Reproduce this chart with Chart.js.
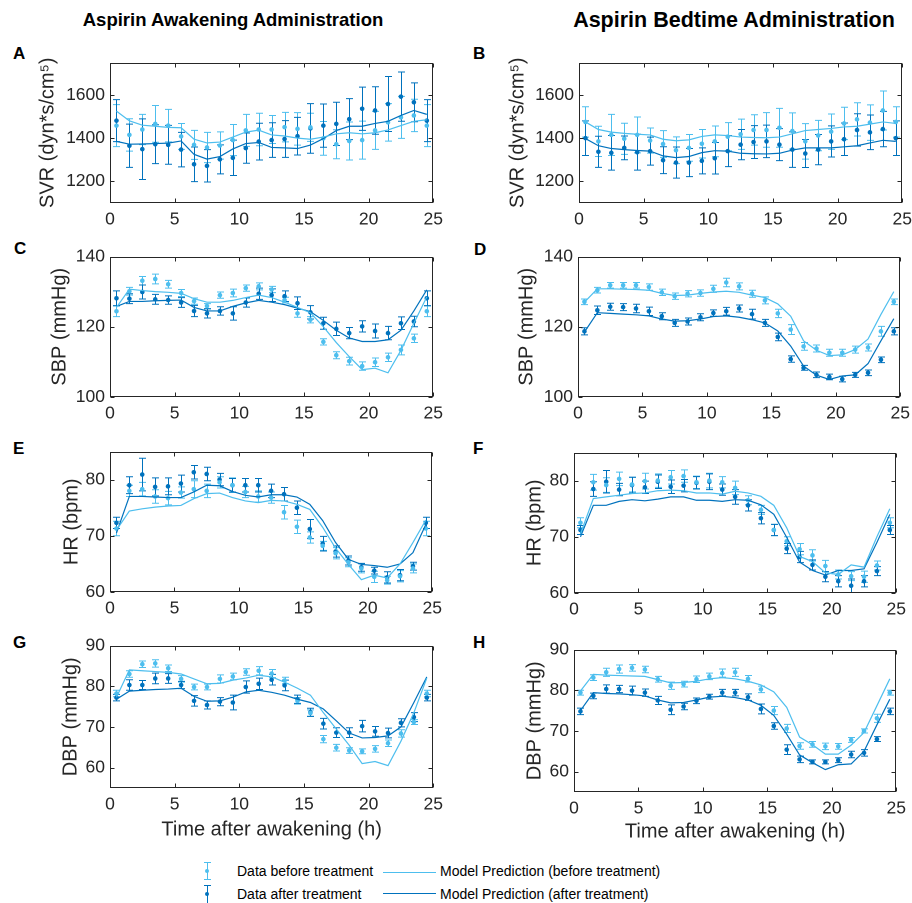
<!DOCTYPE html>
<html>
<head>
<meta charset="utf-8">
<script src="https://cdn.jsdelivr.net/npm/chart.js@4.4.1/dist/chart.umd.min.js"></script>
<style>
  html, body { margin: 0; padding: 0; background: #fff; overflow: hidden; }
  #page { position: relative; width: 912px; height: 903px; overflow: hidden;
          font-family: "Liberation Sans", Arial, Helvetica, sans-serif; color: #000; }
  .panel { position: absolute; }
  .title { position: absolute; font-weight: bold; white-space: nowrap; transform: translateX(-50%); line-height: 24px; }
  .letter { position: absolute; font-weight: bold; font-size: 17px; line-height: 17px; }
  .leg { position: absolute; font-size: 14px; line-height: 16px; white-space: nowrap; color: #000; }
  .bar { position: absolute; width: 1px; }
  .cap { position: absolute; width: 7px; height: 1px; }
  .dot { position: absolute; width: 4px; height: 4px; border-radius: 50%; }
  .lline { position: absolute; width: 53px; height: 0; border-top: 1.4px solid; }
</style>
</head>
<body>
<div id="page">
  <div class="title" style="left:233px; top:8px; font-size:18.5px;">Aspirin Awakening Administration</div>
  <div class="title" style="left:734px; top:8px; font-size:21.5px;">Aspirin Bedtime Administration</div>

  <div class="letter" style="left:13px; top:45px;">A</div>
  <div class="letter" style="left:473px; top:45px;">B</div>
  <div class="letter" style="left:14px; top:240px;">C</div>
  <div class="letter" style="left:474px; top:241px;">D</div>
  <div class="letter" style="left:13px; top:440px;">E</div>
  <div class="letter" style="left:473px; top:440px;">F</div>
  <div class="letter" style="left:13px; top:634px;">G</div>
  <div class="letter" style="left:473px; top:634px;">H</div>

  <!-- legend -->
  <div class="bar" style="left:207px; top:862px; height:18px; background:#4DBEEE;"></div>
  <div class="cap" style="left:204px; top:862px; background:#4DBEEE;"></div>
  <div class="cap" style="left:204px; top:879px; background:#4DBEEE;"></div>
  <div class="dot" style="left:205px; top:869px; background:#4DBEEE;"></div>
  <div class="bar" style="left:207px; top:885px; height:18px; background:#0072BD;"></div>
  <div class="cap" style="left:204px; top:885px; background:#0072BD;"></div>
  <div class="dot" style="left:205px; top:892px; background:#0072BD;"></div>
  <div class="leg" style="left:237px; top:863px;">Data before treatment</div>
  <div class="leg" style="left:237px; top:886px;">Data after treatment</div>
  <div class="lline" style="left:383px; top:872px; border-color:#4DBEEE;"></div>
  <div class="lline" style="left:383px; top:893px; border-color:#0072BD;"></div>
  <div class="leg" style="left:440px; top:863px;">Model Prediction (before treatment)</div>
  <div class="leg" style="left:440px; top:886px;">Model Prediction (after treatment)</div>
</div>

<script>
// hours after awakening at which data were collected
var hours = [0.5, 1.5, 2.5, 3.5, 4.5, 5.5, 6.5, 7.5, 8.5, 9.5, 10.5, 11.5, 12.5,
             13.5, 14.5, 15.5, 16.5, 17.5, 18.5, 19.5, 20.5, 21.5, 22.5, 23.5, 24.5];

var xTicks = [0, 5, 10, 15, 20, 25];
var svrTicks = [1200, 1400, 1600];
var sbpTicks = [100, 120, 140];
var hrTicks = [60, 70, 80];
var dbpTicks = [60, 70, 80, 90];

// A: SVR, awakening administration
var svrAwBefore = [1458, 1415, 1440, 1466, 1458, 1408, 1369, 1357, 1366, 1391, 1436, 1440, 1440, 1451, 1443, 1450, 1399, 1372, 1387, 1391, 1436, 1473, 1496, 1505, 1458];
var svrAwBeforeErr = [97, 75, 70, 85, 75, 60, 67, 70, 63, 72, 74, 75, 65, 68, 75, 65, 78, 67, 88, 88, 88, 87, 97, 75, 97];
var svrAwAfter = [1481, 1365, 1349, 1372, 1369, 1347, 1279, 1272, 1302, 1309, 1354, 1384, 1391, 1396, 1409, 1445, 1458, 1466, 1488, 1536, 1528, 1558, 1592, 1566, 1481];
var svrAwAfterErr = [97, 100, 140, 90, 90, 80, 80, 75, 67, 82, 70, 85, 80, 85, 87, 115, 100, 100, 95, 100, 110, 127, 114, 90, 97];
var svrAwModelBefore = [1525, 1480, 1460, 1455, 1450, 1448, 1395, 1378, 1382, 1405, 1428, 1437, 1415, 1410, 1400, 1395, 1405, 1420, 1425, 1420, 1425, 1438, 1458, 1478, 1485];
var svrAwModelAfter = [1385, 1372, 1373, 1375, 1377, 1387, 1325, 1303, 1315, 1350, 1375, 1380, 1357, 1355, 1352, 1368, 1398, 1435, 1455, 1455, 1468, 1478, 1505, 1528, 1510];

// B: SVR, bedtime administration
var svrBdBefore = [1475, 1385, 1415, 1397, 1415, 1389, 1373, 1344, 1355, 1374, 1385, 1407, 1418, 1438, 1438, 1448, 1433, 1385, 1412, 1430, 1468, 1487, 1472, 1528, 1475];
var svrBdBeforeErr = [70, 70, 95, 72, 83, 58, 62, 62, 62, 66, 71, 65, 70, 70, 80, 90, 84, 82, 70, 82, 75, 77, 82, 90, 70];
var svrBdAfter = [1400, 1337, 1332, 1355, 1335, 1340, 1298, 1287, 1287, 1295, 1307, 1340, 1370, 1382, 1385, 1370, 1347, 1329, 1347, 1385, 1395, 1438, 1427, 1442, 1400];
var svrBdAfterErr = [80, 72, 80, 55, 83, 65, 62, 72, 65, 60, 73, 72, 70, 76, 75, 74, 82, 65, 70, 72, 75, 75, 80, 82, 80];
var svrBdModelBefore = [1475, 1440, 1428, 1422, 1418, 1415, 1395, 1388, 1392, 1408, 1415, 1412, 1405, 1403, 1402, 1405, 1420, 1435, 1440, 1445, 1452, 1455, 1465, 1475, 1468];
var svrBdModelAfter = [1398, 1365, 1352, 1347, 1343, 1340, 1318, 1310, 1315, 1333, 1342, 1340, 1330, 1328, 1327, 1330, 1345, 1355, 1355, 1355, 1360, 1365, 1378, 1390, 1385];

// C: SBP, awakening administration
var sbpAwBefore = [124.4, 130.1, 133.1, 133.6, 132.1, 129.6, 127.3, 125.9, 129.0, 129.6, 131.0, 131.5, 130.6, 127.6, 123.8, 122.0, 115.7, 111.9, 110.2, 108.8, 109.9, 111.3, 113.4, 116.7, 124.4];
var sbpAwBeforeErr = [1.5, 1.1, 1.2, 1.4, 1.1, 1.0, 0.9, 0.7, 0.9, 1.1, 0.9, 1.0, 0.9, 0.8, 1.1, 0.9, 0.9, 1.0, 1.1, 1.2, 1.2, 1.2, 1.4, 1.2, 1.5];
var sbpAwAfter = [128.1, 128.0, 129.9, 127.8, 127.6, 126.9, 124.5, 123.8, 124.5, 123.8, 126.9, 129.4, 129.0, 128.7, 126.7, 124.1, 121.0, 119.4, 118.2, 120.1, 118.8, 118.2, 121.0, 121.5, 128.1];
var sbpAwAfterErr = [2.1, 1.4, 2.0, 1.4, 1.2, 1.4, 1.6, 1.3, 1.2, 1.9, 1.3, 1.6, 1.8, 1.5, 1.8, 1.9, 1.7, 1.9, 1.6, 1.6, 2.0, 1.9, 1.8, 1.5, 2.1];
var sbpAwModelBefore = [125.5, 130.7, 130.3, 130.0, 129.8, 129.5, 128.0, 127.0, 127.0, 127.5, 128.3, 129.0, 128.3, 127.0, 125.5, 124.0, 120.0, 115.5, 111.5, 107.8, 108.2, 106.9, 113.3, 121.0, 128.5];
var sbpAwModelAfter = [125.8, 127.2, 127.2, 127.4, 127.5, 127.6, 125.5, 124.5, 124.5, 125.8, 126.8, 127.5, 127.0, 126.3, 125.3, 124.3, 121.8, 119.0, 116.8, 115.8, 115.8, 116.3, 119.0, 124.5, 130.5];

// D: SBP, bedtime administration
var sbpBdBefore = [127.1, 130.4, 131.8, 131.8, 131.8, 131.3, 129.8, 128.7, 129.4, 129.6, 130.8, 132.6, 131.5, 129.4, 127.5, 123.8, 119.2, 114.4, 113.8, 112.6, 112.6, 113.5, 114.1, 118.7, 127.1];
var sbpBdBeforeErr = [0.8, 0.8, 0.8, 0.8, 0.8, 0.9, 0.9, 0.9, 0.9, 0.9, 1.0, 1.2, 1.0, 1.0, 1.0, 1.2, 1.4, 1.1, 1.0, 1.0, 1.0, 1.0, 1.0, 1.4, 0.8];
var sbpBdAfter = [118.7, 124.7, 125.7, 125.6, 125.2, 124.4, 123.0, 121.1, 121.5, 122.7, 123.9, 124.4, 125.2, 123.6, 121.1, 117.1, 110.8, 108.3, 106.3, 105.7, 105.1, 106.3, 106.9, 110.6, 118.7];
var sbpBdAfterErr = [1.0, 1.2, 1.0, 1.0, 1.2, 1.2, 1.0, 1.0, 1.0, 1.0, 0.9, 1.1, 1.0, 1.4, 1.0, 1.1, 0.9, 0.7, 0.8, 0.8, 0.8, 0.7, 0.8, 0.8, 1.0];
var sbpBdModelBefore = [127.0, 130.8, 130.8, 130.7, 130.6, 130.4, 129.5, 128.9, 129.0, 129.5, 129.9, 130.1, 129.8, 129.0, 128.3, 126.5, 123.0, 116.0, 113.3, 111.8, 112.0, 113.5, 116.5, 123.5, 130.0];
var sbpBdModelAfter = [118.5, 124.0, 123.8, 123.6, 123.4, 123.1, 122.2, 121.6, 121.7, 122.2, 122.9, 123.1, 122.7, 122.0, 121.1, 118.8, 114.5, 108.8, 106.2, 105.0, 106.0, 106.3, 109.5, 116.0, 122.3];

// E: HR, awakening administration
var hrAwBefore = [71.3, 78.0, 78.3, 77.0, 76.7, 77.7, 78.3, 78.0, 79.5, 79.0, 77.8, 77.0, 76.8, 74.2, 71.6, 69.7, 68.2, 66.9, 65.3, 64.2, 62.7, 62.1, 62.8, 64.2, 71.3];
var hrAwBeforeErr = [1.3, 1.0, 1.2, 1.2, 1.2, 1.0, 1.5, 1.2, 1.0, 1.3, 1.0, 1.0, 1.0, 1.2, 1.2, 1.0, 0.8, 1.0, 0.8, 0.8, 1.0, 0.7, 1.0, 0.8, 1.3];
var hrAwAfter = [72.3, 79.0, 80.9, 78.7, 78.8, 79.3, 81.3, 81.0, 80.0, 79.0, 79.0, 79.0, 78.0, 77.4, 75.0, 71.2, 68.6, 67.2, 65.6, 64.4, 63.8, 62.6, 63.0, 64.6, 72.3];
var hrAwAfterErr = [1.0, 1.5, 2.9, 1.6, 1.5, 1.5, 1.2, 1.2, 1.1, 1.2, 1.2, 1.2, 1.2, 1.2, 1.2, 1.7, 1.3, 1.0, 0.8, 0.7, 0.6, 1.0, 1.0, 0.7, 1.0];
var hrAwModelBefore = [71.0, 74.4, 74.8, 75.1, 75.3, 75.4, 76.6, 77.5, 77.6, 76.8, 76.2, 75.9, 76.3, 76.2, 75.6, 74.7, 71.5, 67.8, 64.9, 62.2, 63.0, 62.5, 65.0, 68.8, 72.8];
var hrAwModelAfter = [70.5, 77.0, 77.0, 76.9, 76.8, 76.8, 77.8, 79.0, 78.9, 77.9, 77.2, 76.9, 77.3, 77.3, 76.9, 75.6, 72.7, 68.8, 65.8, 64.9, 64.7, 64.4, 65.0, 67.0, 72.0];

// F: HR, bedtime administration
var hrBdBefore = [72.5, 79.7, 79.2, 80.3, 79.3, 79.9, 80.0, 80.6, 80.8, 79.7, 80.0, 79.7, 78.7, 76.5, 74.8, 71.2, 69.2, 67.8, 66.7, 64.8, 63.3, 63.0, 62.9, 64.9, 72.5];
var hrBdBeforeErr = [0.9, 1.4, 1.3, 1.2, 1.3, 1.4, 1.2, 1.2, 1.1, 1.1, 1.3, 1.0, 1.2, 0.8, 0.8, 1.0, 0.8, 1.0, 1.0, 1.0, 0.8, 0.8, 1.0, 0.8, 0.9];
var hrBdAfter = [71.2, 78.5, 79.8, 78.4, 79.2, 78.8, 79.8, 78.9, 79.1, 79.6, 79.8, 78.4, 77.1, 75.6, 73.3, 71.2, 67.9, 66.4, 65.0, 62.9, 62.1, 61.3, 62.1, 63.9, 71.2];
var hrBdAfterErr = [0.8, 1.3, 2.0, 1.1, 1.4, 1.1, 1.2, 1.2, 1.1, 1.1, 1.4, 1.0, 1.3, 1.0, 1.0, 1.0, 0.9, 1.0, 0.9, 0.9, 1.0, 1.2, 1.0, 0.8, 0.8];
var hrBdModelBefore = [70.5, 76.8, 77.1, 77.4, 77.7, 77.8, 78.2, 78.3, 78.2, 77.8, 77.8, 77.6, 78.1, 77.8, 77.2, 75.6, 71.6, 66.5, 65.6, 63.6, 63.3, 65.0, 64.6, 70.0, 75.0];
var hrBdModelAfter = [70.0, 75.6, 75.6, 76.3, 76.6, 76.4, 76.7, 77.1, 77.1, 76.5, 76.5, 76.3, 76.6, 76.5, 75.7, 74.0, 69.9, 65.5, 64.0, 63.2, 64.0, 64.0, 64.3, 69.0, 74.0];

// G: DBP, awakening administration
var dbpAwBefore = [78.2, 83.0, 85.4, 85.6, 84.4, 81.8, 79.8, 79.8, 81.8, 82.4, 83.5, 83.8, 83.1, 81.4, 76.4, 73.4, 67.0, 64.9, 64.2, 64.0, 64.6, 66.0, 68.4, 71.2, 78.2];
var dbpAwBeforeErr = [0.8, 0.8, 0.8, 0.9, 0.8, 0.8, 0.7, 0.7, 1.0, 0.8, 0.8, 1.0, 1.0, 0.8, 0.8, 0.8, 0.9, 0.8, 0.7, 0.6, 0.8, 0.8, 0.9, 0.6, 0.8];
var dbpAwAfter = [77.2, 80.3, 80.3, 81.9, 81.9, 80.3, 76.4, 75.4, 76.2, 76.0, 79.8, 80.6, 81.6, 80.2, 76.8, 73.6, 70.8, 68.6, 68.6, 70.2, 68.9, 68.5, 71.0, 72.4, 77.2];
var dbpAwAfterErr = [0.8, 1.3, 1.1, 1.3, 1.2, 0.9, 1.3, 1.0, 1.0, 1.8, 1.5, 1.4, 1.3, 1.3, 1.0, 1.0, 1.3, 1.2, 1.2, 1.4, 1.2, 1.2, 1.0, 1.1, 0.8];
var dbpAwModelBefore = [77.3, 84.0, 83.8, 83.6, 83.4, 83.0, 81.8, 80.6, 80.7, 81.5, 82.0, 82.7, 82.3, 81.0, 79.5, 77.8, 73.5, 69.5, 65.5, 61.0, 61.5, 60.5, 66.5, 73.5, 82.0];
var dbpAwModelAfter = [76.8, 78.8, 79.0, 79.2, 79.3, 79.5, 77.5, 76.3, 76.4, 77.3, 78.6, 79.0, 78.5, 77.8, 76.8, 76.0, 74.4, 71.5, 68.5, 67.3, 67.4, 67.8, 70.0, 76.0, 82.3];

// H: DBP, bedtime administration
var dbpBdBefore = [79.4, 83.1, 84.4, 85.2, 85.5, 85.1, 82.7, 81.1, 81.5, 82.7, 83.4, 84.2, 84.4, 82.8, 80.2, 75.0, 70.6, 66.3, 66.7, 66.2, 66.2, 67.8, 70.0, 73.1, 79.4];
var dbpBdBeforeErr = [0.6, 0.7, 1.0, 1.0, 0.8, 0.8, 0.7, 0.9, 0.7, 0.8, 0.8, 1.0, 1.0, 0.8, 0.8, 1.0, 1.0, 0.8, 0.7, 0.8, 0.7, 0.6, 0.5, 1.0, 0.6];
var dbpBdAfter = [74.8, 78.6, 80.3, 80.3, 79.9, 79.4, 77.5, 75.2, 76.0, 77.4, 78.4, 79.4, 79.4, 78.3, 75.4, 71.2, 65.4, 63.0, 62.4, 62.4, 62.8, 64.2, 64.6, 68.0, 74.8];
var dbpBdAfterErr = [0.8, 0.7, 1.0, 0.9, 1.1, 0.9, 1.0, 1.2, 0.8, 0.7, 0.6, 0.8, 0.8, 0.8, 1.2, 0.8, 1.2, 0.8, 0.5, 0.5, 0.6, 0.8, 0.8, 0.6, 0.8];
var dbpBdModelBefore = [79.8, 83.9, 83.7, 83.6, 83.5, 83.4, 82.6, 81.8, 81.9, 82.2, 82.8, 83.1, 82.8, 82.2, 81.3, 79.6, 75.8, 68.5, 66.6, 64.3, 64.3, 66.5, 69.6, 76.2, 82.8];
var dbpBdModelAfter = [75.0, 79.4, 79.2, 79.1, 78.9, 78.6, 77.6, 76.9, 77.0, 77.6, 78.3, 78.5, 78.2, 77.6, 76.3, 73.8, 69.2, 64.1, 62.2, 60.5, 61.7, 61.9, 65.0, 71.5, 77.8];

(function() {
  var LIGHT = '#4DBEEE';
  var DARK = '#0072BD';
  var AXIS = '#262626';

  Chart.defaults.font.family = '"Liberation Sans", Arial, Helvetica, sans-serif';
  Chart.defaults.color = AXIS;

  // box: plot area in page pixels [left, right, top, bottom]; yt: centre of y title
  var panels = [
    { ytitle: 'SVR (dyn*s/cm\u2075)', min: 1100, max: 1750, ticks: svrTicks, box: [110, 435, 59, 203], yt: 48,
      before: svrAwBefore, beforeErr: svrAwBeforeErr, after: svrAwAfter, afterErr: svrAwAfterErr,
      mBefore: svrAwModelBefore, mAfter: svrAwModelAfter },
    { ytitle: 'SVR (dyn*s/cm\u2075)', min: 1100, max: 1750, ticks: svrTicks, box: [579, 904, 59, 203], yt: 518,
      before: svrBdBefore, beforeErr: svrBdBeforeErr, after: svrBdAfter, afterErr: svrBdAfterErr,
      mBefore: svrBdModelBefore, mAfter: svrBdModelAfter },
    { ytitle: 'SBP (mmHg)', min: 100, max: 140, ticks: sbpTicks, box: [110, 435, 253, 397], yt: 60,
      before: sbpAwBefore, beforeErr: sbpAwBeforeErr, after: sbpAwAfter, afterErr: sbpAwAfterErr,
      mBefore: sbpAwModelBefore, mAfter: sbpAwModelAfter },
    { ytitle: 'SBP (mmHg)', min: 100, max: 140, ticks: sbpTicks, box: [578, 902, 253, 397], yt: 527,
      before: sbpBdBefore, beforeErr: sbpBdBeforeErr, after: sbpBdAfter, afterErr: sbpBdAfterErr,
      mBefore: sbpBdModelBefore, mAfter: sbpBdModelAfter },
    { ytitle: 'HR (bpm)', min: 60, max: 85, ticks: hrTicks, box: [110, 434, 448, 592], yt: 72,
      before: hrAwBefore, beforeErr: hrAwBeforeErr, after: hrAwAfter, afterErr: hrAwAfterErr,
      mBefore: hrAwModelBefore, mAfter: hrAwModelAfter },
    { ytitle: 'HR (bpm)', min: 60, max: 85, ticks: hrTicks, box: [574, 898, 449, 593], yt: 535,
      before: hrBdBefore, beforeErr: hrBdBeforeErr, after: hrBdAfter, afterErr: hrBdAfterErr,
      mBefore: hrBdModelBefore, mAfter: hrBdModelAfter },
    { ytitle: 'DBP (mmHg)', min: 55, max: 90, ticks: dbpTicks, box: [110, 435, 642, 788], yt: 71, xh: 54,
      before: dbpAwBefore, beforeErr: dbpAwBeforeErr, after: dbpAwAfter, afterErr: dbpAwAfterErr,
      mBefore: dbpAwModelBefore, mAfter: dbpAwModelAfter },
    { ytitle: 'DBP (mmHg)', min: 55, max: 90, ticks: dbpTicks, box: [574, 898, 646, 792], yt: 535, xh: 52,
      before: dbpBdBefore, beforeErr: dbpBdBeforeErr, after: dbpBdAfter, afterErr: dbpBdAfterErr,
      mBefore: dbpBdModelBefore, mAfter: dbpBdModelAfter }
  ];

  // vertical error bars with caps, through the chart's own scales
  var errorBars = {
    id: 'errorBars',
    beforeDatasetsDraw: function(chart) {
      var ctx = chart.ctx, xs = chart.scales.x, ys = chart.scales.y;
      chart.data.datasets.forEach(function(ds) {
        if (!ds.errors) return;
        ctx.save();
        ctx.strokeStyle = ds.borderColor;
        ctx.lineWidth = 1;
        ds.data.forEach(function(p, j) {
          var e = ds.errors[j];
          var x = Math.round(xs.getPixelForValue(p.x)) + 0.5;
          var y0 = ys.getPixelForValue(p.y - e);
          var y1 = ys.getPixelForValue(p.y + e);
          ctx.beginPath();
          ctx.moveTo(x, y0); ctx.lineTo(x, y1);
          ctx.moveTo(x - 3.5, y0); ctx.lineTo(x + 3.5, y0);
          ctx.moveTo(x - 3.5, y1); ctx.lineTo(x + 3.5, y1);
          ctx.stroke();
        });
        ctx.restore();
      });
    }
  };

  // MATLAB style box with inward ticks on all four sides
  var matlabBox = {
    id: 'matlabBox',
    afterDraw: function(chart) {
      var a = chart.chartArea, ctx = chart.ctx, xs = chart.scales.x, ys = chart.scales.y;
      var l = Math.round(a.left) + 0.5, r = Math.round(a.right) - 0.5;
      var t = Math.round(a.top) + 0.5, b = Math.round(a.bottom) - 0.5;
      var len = 4;
      ctx.save();
      ctx.strokeStyle = AXIS;
      ctx.lineWidth = 1;
      ctx.beginPath();
      ctx.rect(l, t, r - l, b - t);
      xs.ticks.forEach(function(tk) {
        var x = Math.round(xs.getPixelForValue(tk.value)) + 0.5;
        ctx.moveTo(x, b); ctx.lineTo(x, b - len);
        ctx.moveTo(x, t); ctx.lineTo(x, t + len);
      });
      ys.ticks.forEach(function(tk) {
        var y = Math.round(ys.getPixelForValue(tk.value)) + 0.5;
        ctx.moveTo(l, y); ctx.lineTo(l + len, y);
        ctx.moveTo(r, y); ctx.lineTo(r - len, y);
      });
      ctx.stroke();
      ctx.restore();
    }
  };

  function points(values) {
    return values.map(function(v, i) { return { x: hours[i], y: v }; });
  }

  function plain(v) { return String(v); }

  function makePanel(p) {
    var padTop = 12, padRight = 14;
    var xh = p.xh || 30;
    var left = p.yt - 12;
    var yw = p.box[0] - left;
    var div = document.createElement('div');
    div.className = 'panel';
    div.style.left = left + 'px';
    div.style.top = (p.box[2] - padTop) + 'px';
    div.style.width = (p.box[1] + padRight - left) + 'px';
    div.style.height = (p.box[3] - p.box[2] + padTop + xh) + 'px';
    var canvas = document.createElement('canvas');
    div.appendChild(canvas);
    document.getElementById('page').appendChild(div);

    new Chart(canvas, {
      type: 'scatter',
      data: {
        datasets: [
          { type: 'line', data: points(p.mBefore), borderColor: LIGHT, borderWidth: 1.2,
            pointRadius: 0, fill: false, tension: 0 },
          { type: 'line', data: points(p.mAfter), borderColor: DARK, borderWidth: 1.2,
            pointRadius: 0, fill: false, tension: 0 },
          { data: points(p.before), errors: p.beforeErr, borderColor: LIGHT, backgroundColor: LIGHT,
            pointRadius: 2.3, pointBorderWidth: 0 },
          { data: points(p.after), errors: p.afterErr, borderColor: DARK, backgroundColor: DARK,
            pointRadius: 2.3, pointBorderWidth: 0 }
        ]
      },
      options: {
        animation: false,
        responsive: true,
        maintainAspectRatio: false,
        devicePixelRatio: 2,
        events: [],
        layout: { padding: { top: padTop, right: padRight, left: 0, bottom: 0 } },
        plugins: { legend: { display: false }, tooltip: { enabled: false } },
        scales: {
          x: {
            type: 'linear', min: 0, max: 25,
            afterBuildTicks: function(s) { s.ticks = xTicks.map(function(v) { return { value: v }; }); },
            afterFit: function(s) { s.height = xh; },
            grid: { display: false, drawTicks: false }, border: { display: false },
            ticks: { font: { size: 17.5 }, color: AXIS, padding: 6, maxRotation: 0, autoSkip: false, callback: plain },
            title: { display: !!p.xh, text: 'Time after awakening (h)', font: { size: 20 }, color: AXIS, padding: 0 }
          },
          y: {
            type: 'linear', min: p.min, max: p.max,
            afterBuildTicks: function(s) { s.ticks = p.ticks.map(function(v) { return { value: v }; }); },
            afterFit: function(s) { s.width = yw; },
            grid: { display: false, drawTicks: false }, border: { display: false },
            ticks: { font: { size: 17.5 }, color: AXIS, padding: 5, autoSkip: false, callback: plain },
            title: { display: true, text: p.ytitle, font: { size: 20 }, color: AXIS, padding: 0 }
          }
        }
      },
      plugins: [errorBars, matlabBox]
    });
  }

  panels.forEach(makePanel);
})();
</script>
</body>
</html>
